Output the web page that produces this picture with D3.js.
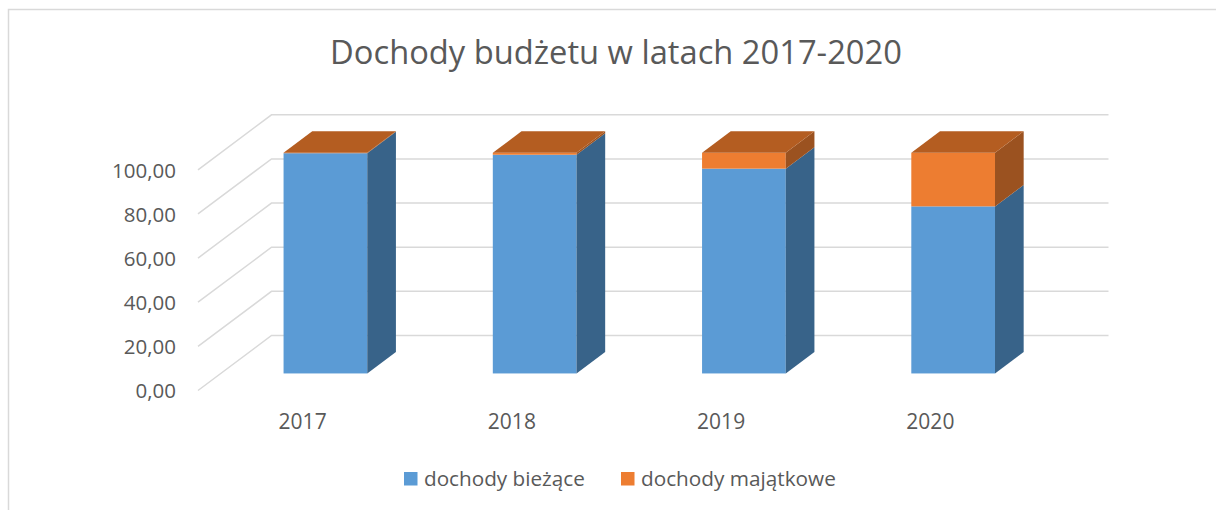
<!DOCTYPE html>
<html>
<head>
<meta charset="utf-8">
<script src="https://cdn.jsdelivr.net/npm/d3@7"></script>
<style>
  body { margin: 0; background: #fff; }
  text { font-family: "Open Sans", sans-serif; fill: #595959; }
</style>
</head>
<body>
<svg id="chart" width="1216" height="510"></svg>
<script>
var years = ["2017", "2018", "2019", "2020"];
var biezace = [99.8, 99.1, 92.8, 75.7];
var majatkowe = [0.2, 0.9, 7.2, 24.3];
var yTicks = [0, 20, 40, 60, 80, 100];
var seriesNames = ["dochody bieżące", "dochody majątkowe"];

var svg = d3.select("#chart");
var W = 1216, H = 510;

// frame of chart area (only top and left edges visible)
svg.append("path")
  .attr("d", "M8.5," + H + "V9.5H" + W)
  .attr("fill", "none").attr("stroke", "#d9d9d9").attr("stroke-width", 1.5);

// front plane scales, depth vector for the 3d look
var x = d3.scaleBand().domain(years).range([198, 1035]);
var y = d3.scaleLinear().domain([0, 100]).range([390.5, 169.8]);
var depth = { x: 73.5, y: -55 };
var zFront = 0.31, zBack = 0.70;
var barW = x.bandwidth() * 0.4;

function fit(sel, target) {
  var size = parseFloat(sel.style("font-size"));
  var w = sel.node().getComputedTextLength();
  sel.style("font-size", (size * target / w) + "px");
}

// title
var title = svg.append("text")
  .attr("x", 616).attr("y", 64)
  .attr("text-anchor", "middle")
  .style("font-size", "30px")
  .text("Dochody budżetu w latach 2017-2020");
fit(title, 572);

// gridlines: diagonal on the side wall, horizontal on the back wall
var grid = svg.append("g").attr("class", "grid")
  .attr("fill", "none").attr("stroke", "#d9d9d9").attr("stroke-width", 1.5);
grid.selectAll("path").data(yTicks).enter().append("path")
  .attr("d", function (d) {
    var x0 = x.range()[0], x1 = x.range()[1];
    return "M" + x0 + "," + y(d) +
      "L" + (x0 + depth.x) + "," + (y(d) + depth.y) +
      "H" + (x1 + depth.x);
  });

// y axis labels
var plFormat = d3.formatLocale({ decimal: ",", thousands: " ", grouping: [3], currency: ["", " zł"] }).format(".2f");
var yAxis = svg.append("g").attr("class", "axis")
  .attr("transform", "translate(198,0)")
  .call(d3.axisLeft(y).tickValues(yTicks).tickSize(0).tickPadding(22).tickFormat(plFormat));
yAxis.select(".domain").remove();
yAxis.selectAll("text")
  .style("font-family", null).style("font-size", "20.5px")
  .attr("fill", "#595959").attr("dy", "0.36em");

// x axis labels
var xAxis = svg.append("g").attr("class", "axis")
  .attr("transform", "translate(0,429)")
  .call(d3.axisBottom(x).tickSize(0).tickPadding(0));
xAxis.select(".domain").remove();
xAxis.selectAll("text")
  .style("font-family", null).style("font-size", "21px")
  .attr("fill", "#595959").attr("y", 0).attr("dy", 0);

// stacked data
var table = years.map(function (yr, i) {
  return { year: yr, biezace: biezace[i], majatkowe: majatkowe[i] };
});
var stack = d3.stack().keys(["biezace", "majatkowe"])(table);
var colors = {
  biezace: { front: "#5b9bd5", side: "#386389", top: "#4a80b2" },
  majatkowe: { front: "#ed7d31", side: "#9b5220", top: "#b45d21" }
};

var fx = zFront * depth.x, fy = zFront * depth.y;
var dx = (zBack - zFront) * depth.x, dy = (zBack - zFront) * depth.y;

var bars = svg.append("g").attr("class", "bars");
years.forEach(function (yr, i) {
  var g = bars.append("g").attr("class", "group");
  var left = x(yr) + (x.bandwidth() - barW) / 2 + fx;
  var right = left + barW;
  stack.forEach(function (layer, li) {
    var seg = layer[i];
    var c = colors[layer.key];
    var y0 = y(seg[0]) + fy, y1 = y(seg[1]) + fy;
    if (y0 - y1 <= 0) return;
    g.append("rect")
      .attr("x", left).attr("y", y1)
      .attr("width", barW).attr("height", y0 - y1)
      .attr("fill", c.front);
    g.append("path")
      .attr("d", "M" + right + "," + y0 + "L" + (right + dx) + "," + (y0 + dy) +
        "L" + (right + dx) + "," + (y1 + dy) + "L" + right + "," + y1 + "Z")
      .attr("fill", c.side);
    if (li === stack.length - 1) {
      g.append("path")
        .attr("d", "M" + left + "," + y1 + "L" + right + "," + y1 +
          "L" + (right + dx) + "," + (y1 + dy) + "L" + (left + dx) + "," + (y1 + dy) + "Z")
        .attr("fill", c.top);
    }
  });
});

// legend
var legendX = [404, 621];
var legendW = [161, 195];
var legend = svg.append("g").attr("class", "legend");
seriesNames.forEach(function (name, i) {
  var key = stack[i].key;
  legend.append("rect")
    .attr("x", legendX[i]).attr("y", 472)
    .attr("width", 13.5).attr("height", 13.5)
    .attr("fill", colors[key].front);
  var t = legend.append("text")
    .attr("x", legendX[i] + 20).attr("y", 486)
    .style("font-size", "20px")
    .text(name);
  fit(t, legendW[i]);
});
</script>
</body>
</html>
